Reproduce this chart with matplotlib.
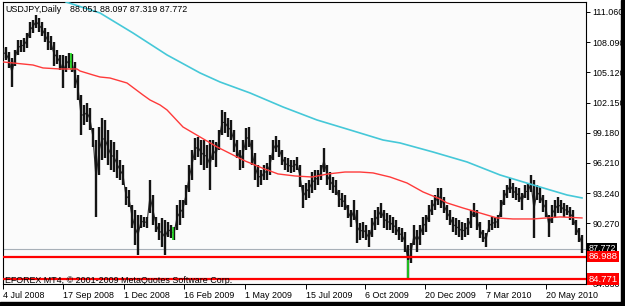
import matplotlib
matplotlib.use("Agg")
import matplotlib.pyplot as plt
from matplotlib.patches import Rectangle
from matplotlib.transforms import blended_transform_factory

# ---- data ----
bar_idx = list(range(0, 582, 3))
highs = [107.52, 107.62, 107.12, 106.53, 107.32, 108.30, 108.30, 108.50, 108.99, 110.08,
         110.27, 110.76, 110.47, 110.08, 109.48, 109.09, 108.70, 108.11, 107.32, 106.83,
         106.83, 106.73, 107.03, 106.93, 106.14, 104.86, 102.89, 101.91, 102.10, 101.61,
         99.64, 98.46, 99.74, 100.63, 100.43, 99.45, 98.46, 98.27, 97.48, 96.50,
         96.00, 93.84, 93.54, 92.07, 91.58, 91.08, 91.08, 90.89, 90.89, 94.53,
         93.05, 90.89, 90.30, 90.79, 90.59, 90.40, 90.10, 89.90, 92.07, 92.56,
         92.56, 94.04, 96.00, 97.48, 98.66, 98.76, 98.46, 98.46, 97.97, 98.46,
         98.46, 98.27, 99.45, 101.42, 101.22, 100.63, 100.43, 99.45, 98.46, 97.48,
         98.46, 99.64, 99.74, 98.46, 97.18, 96.00, 95.51, 96.00, 96.20, 96.99,
         98.46, 98.86, 98.46, 97.48, 96.79, 96.69, 96.50, 96.50, 96.79, 96.00,
         94.04, 94.23, 94.53, 95.31, 95.51, 95.51, 96.00, 97.68, 96.00, 95.31,
         94.82, 94.53, 93.54, 93.25, 93.05, 92.07, 91.58, 92.56, 91.58, 90.30,
         90.40, 90.10, 89.61, 90.79, 91.58, 91.87, 92.27, 91.58, 91.28, 91.08,
         90.89, 90.59, 89.90, 89.81, 89.41, 88.13, 88.33, 90.10, 89.61, 90.10,
         90.89, 91.08, 92.07, 92.56, 93.05, 93.74, 93.74, 92.86, 92.07, 91.58,
         90.89, 90.79, 90.59, 90.40, 90.30, 90.79, 91.58, 92.27, 91.58, 90.40,
         89.61, 89.31, 90.59, 90.89, 90.89, 91.08, 92.56, 93.54, 94.04, 94.72,
         94.23, 93.84, 93.74, 93.25, 94.04, 94.23, 95.02, 94.53, 94.04, 93.84,
         93.05, 92.56, 91.08, 92.07, 92.56, 92.86, 92.56, 92.27, 92.07, 91.87,
         91.58, 90.59, 89.81, 89.12]
lows = [106.53, 106.34, 105.55, 103.68, 105.75, 106.83, 107.12, 107.12, 107.52, 108.50,
        108.99, 109.48, 109.09, 108.70, 108.11, 107.32, 107.32, 105.75, 105.94, 105.35,
        103.58, 105.16, 105.55, 105.16, 103.58, 102.40, 98.96, 99.94, 100.24, 99.45,
        97.78, 90.89, 95.02, 96.50, 96.69, 96.00, 95.51, 95.31, 94.72, 94.53,
        94.04, 92.07, 91.87, 89.81, 88.13, 87.15, 89.81, 89.90, 89.81, 91.28,
        90.10, 89.41, 88.62, 87.94, 87.15, 88.92, 88.82, 88.62, 89.61, 90.10,
        90.79, 92.07, 93.35, 94.53, 96.50, 96.79, 96.00, 95.51, 95.71, 93.54,
        96.50, 95.81, 97.48, 98.96, 99.15, 98.76, 98.46, 97.28, 96.69, 95.51,
        95.71, 97.48, 97.78, 96.00, 94.53, 93.84, 94.04, 94.53, 94.53, 95.02,
        96.50, 97.28, 96.79, 96.00, 95.51, 95.31, 95.22, 95.31, 95.51, 93.84,
        91.77, 92.56, 92.76, 93.25, 93.54, 94.04, 94.53, 95.31, 94.04, 93.54,
        93.25, 93.05, 91.87, 91.87, 91.58, 90.79, 89.90, 90.59, 88.33, 88.62,
        88.82, 88.62, 87.94, 88.92, 89.61, 90.10, 90.79, 89.81, 89.61, 89.61,
        89.31, 89.12, 88.62, 88.43, 87.44, 84.88, 86.36, 88.13, 87.44, 88.13,
        89.12, 89.41, 90.40, 91.08, 91.58, 92.07, 91.77, 91.28, 90.59, 90.10,
        89.41, 89.12, 88.92, 88.62, 88.92, 89.12, 89.81, 90.89, 89.61, 88.82,
        88.43, 87.94, 89.41, 89.61, 89.81, 89.81, 90.89, 92.07, 92.76, 93.25,
        92.76, 92.56, 92.36, 91.58, 92.76, 92.56, 93.35, 88.82, 92.56, 92.27,
        91.38, 90.89, 88.92, 90.30, 90.79, 91.28, 91.28, 90.89, 91.08, 90.59,
        90.10, 89.12, 88.43, 87.34]

# highlighted (green) bars
green_idx = [68, 170, 405]
green_high = [107.03, 89.90, 86.66]
green_low = [105.35, 88.62, 84.88]

# moving averages
red_ma_idx = [0, 30, 40, 57, 74, 77, 90, 97, 107, 124, 140, 147, 157, 164, 180, 197, 214,
              230, 242, 259, 275, 292, 309, 325, 342, 357, 370, 387, 404, 420, 437, 444,
              460, 477, 494, 510, 530, 557, 579]
red_ma = [106.14, 105.84, 105.55, 105.45, 105.45, 105.25, 104.86, 104.66, 104.56, 104.07,
          102.89, 102.40, 101.91, 101.42, 99.74, 98.76, 97.78, 96.99, 96.40, 95.71,
          95.12, 94.92, 94.82, 95.12, 95.31, 95.31, 95.22, 94.82, 94.23, 93.35,
          92.66, 92.27, 91.77, 91.28, 90.79, 90.69, 90.69, 90.89, 90.79]
cyan_ma_idx = [63, 97, 130, 164, 197, 217, 247, 280, 314, 347, 380, 397, 430, 464, 497,
               530, 564, 579]
cyan_ma = [112.04, 110.96, 108.99, 106.83, 105.06, 104.17, 103.09, 101.71, 100.43, 99.45,
           98.46, 98.17, 97.28, 96.30, 95.02, 94.04, 93.05, 92.76]

symbol = "USDJPY,Daily"
ohlc_text = "88.051 88.097 87.319 87.772"
last_close = 87.772
levels = [86.988, 84.771]
y_ticks = [111.060, 108.090, 105.120, 102.150, 99.180, 96.210, 93.240, 90.270, 84.330]
x_tick_idx = [0, 60, 121, 181, 242, 303, 362, 422, 483, 543]
x_tick_labels = ["4 Jul 2008", "17 Sep 2008", "1 Dec 2008", "16 Feb 2009", "1 May 2009",
                 "15 Jul 2009", "6 Oct 2009", "20 Dec 2009", "7 Mar 2010", "20 May 2010"]
copyright_text = "EFOREX MT4, \u00a9 2001-2009 MetaQuotes Software Corp."

# ---- drawing ----
FONT = "Liberation Sans"
FS = 6.4
W, H = 625, 306
fig = plt.figure(figsize=(W / 100, H / 100), dpi=100)
fig.patch.set_facecolor("white")
ax = fig.add_axes([3 / W, 22 / H, 583 / W, 282 / H])
ax.set_facecolor("#fbfbfb")
ax.set_xlim(0, 583)
ax.set_ylim(84.29, 112.04)

mids = [(h + l) / 2 for h, l in zip(highs, lows)]
ax.plot(bar_idx, mids, color="#303030", linewidth=0.8, zorder=3)
ax.vlines(bar_idx, lows, highs, colors="#141414", linewidth=1.7, zorder=3)
ax.vlines(green_idx, green_low, green_high, colors="#22dd22", linewidth=1.2, zorder=4)
ax.plot(red_ma_idx, red_ma, color="#ff3a3a", linewidth=1.0, zorder=5)
ax.plot(cyan_ma_idx, cyan_ma, color="#45c8d8", linewidth=1.2, zorder=5)

ax.axhline(last_close, color="#a8b0b8", linewidth=0.8, zorder=2)
for lv in levels:
    ax.axhline(lv, color="#ff0000", linewidth=1.6, zorder=6)

for s in ax.spines.values():
    s.set_color("black")
    s.set_linewidth(0.8)

ax.yaxis.tick_right()
ax.set_yticks(y_ticks)
ax.set_yticklabels([f"{v:.3f}" for v in y_ticks], fontsize=FS, family=FONT)
ax.tick_params(axis="y", length=3, width=0.7, pad=1.5, colors="black")
ax.set_xticks(x_tick_idx)
ax.set_xticklabels(x_tick_labels, fontsize=FS, family=FONT, ha="left")
ax.tick_params(axis="x", length=3.5, width=0.7, pad=1.5, colors="black")

tr = blended_transform_factory(ax.transAxes, ax.transData)
ax.text(1.004, last_close, f"{last_close:.3f}", transform=tr, fontsize=FS, family=FONT,
        color="white", va="center", ha="left", zorder=10, clip_on=False,
        bbox=dict(boxstyle="square,pad=0.12", fc="black", ec="none"))
for lv in levels:
    ax.text(1.004, lv, f"{lv:.3f}", transform=tr, fontsize=FS + 0.4, family=FONT,
            color="white", va="center", ha="left", zorder=10, clip_on=False,
            bbox=dict(boxstyle="square,pad=0.15", fc="#ff0000", ec="none"))

ax.text(0.004, 0.975, symbol, transform=ax.transAxes, fontsize=FS, family=FONT,
        color="black", va="center", ha="left", zorder=10)
ax.text(0.115, 0.975, ohlc_text, transform=ax.transAxes, fontsize=FS, family=FONT,
        color="black", va="center", ha="left", zorder=10)
ax.text(0.004, -0.004, copyright_text, transform=ax.transAxes, fontsize=FS, family=FONT,
        color="black", va="bottom", ha="left", zorder=10)

# dark frame at right and bottom edges of the window
fig.patches.append(Rectangle((621 / W, 0), 4 / W, 1, transform=fig.transFigure,
                             color="#000000", zorder=20))
fig.patches.append(Rectangle((0, 0), 1, 4 / H, transform=fig.transFigure,
                             color="#000000", zorder=20))

fig.savefig("out.png", dpi=100)
